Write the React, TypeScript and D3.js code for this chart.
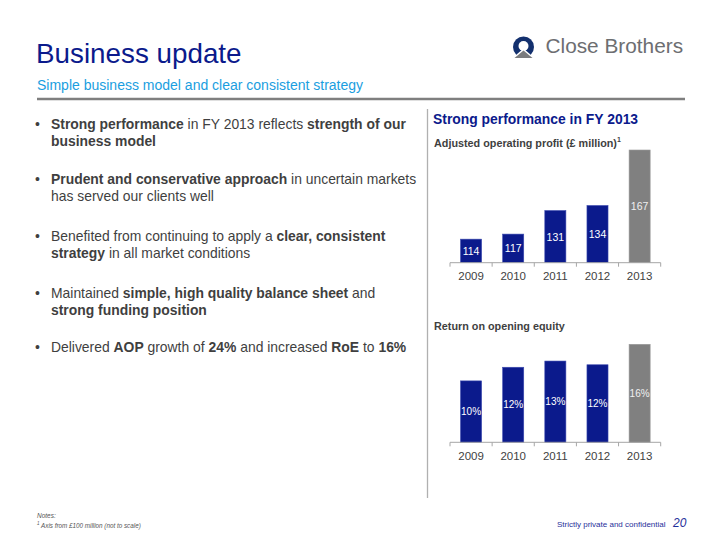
import React from "react";
import * as d3 from "d3";

const years = ["2009", "2010", "2011", "2012", "2013"];
const aopValues = [114, 117, 131, 134, 167];
const aopLabels = ["114", "117", "131", "134", "167"];
const roeValues = [9.9, 12.1, 13.1, 12.5, 15.8];
const roeLabels = ["10%", "12%", "13%", "12%", "16%"];

type Seg = { t: string; b?: boolean };
const bullets: Seg[][][] = [
  [
    [{ t: "Strong performance", b: true }, { t: " in FY 2013 reflects " }, { t: "strength of our", b: true }],
    [{ t: "business model", b: true }],
  ],
  [
    [{ t: "Prudent and conservative approach", b: true }, { t: " in uncertain markets" }],
    [{ t: "has served our clients well" }],
  ],
  [
    [{ t: "Benefited from continuing to apply a " }, { t: "clear, consistent", b: true }],
    [{ t: "strategy", b: true }, { t: " in all market conditions" }],
  ],
  [
    [{ t: "Maintained " }, { t: "simple, high quality balance sheet", b: true }, { t: " and" }],
    [{ t: "strong funding position", b: true }],
  ],
  [
    [
      { t: "Delivered " }, { t: "AOP", b: true }, { t: " growth of " }, { t: "24%", b: true },
      { t: " and increased " }, { t: "RoE", b: true }, { t: " to " }, { t: "16%", b: true },
    ],
  ],
];

const NAVY = "#0b1a8c";
const GREY_BAR = "#808080";
const TEXT = "#3f3f3f";
const FONT = "Arial, 'Liberation Sans', sans-serif";

function BarChart({
  values, labels, yDomain, baseY, topY, labelSize,
}: {
  values: number[]; labels: string[]; yDomain: [number, number]; baseY: number; topY: number; labelSize: number;
}) {
  const x = d3.scaleBand<string>().domain(years).range([450, 660.7]).paddingInner(0.5).paddingOuter(0.25);
  const y = d3.scaleLinear().domain(yDomain).range([baseY, topY]);
  const step = x.step();
  const ticks = d3.range(years.length + 1).map((i) => 450 + i * step);
  return (
    <g>
      {years.map((yr, i) => {
        const x0 = x(yr)!;
        const yt = y(values[i]);
        const last = i === years.length - 1;
        return (
          <g key={yr}>
            <rect x={x0} y={yt} width={x.bandwidth()} height={baseY - yt}
              fill={last ? GREY_BAR : NAVY} stroke={last ? "#9a9a9a" : "#3c4ab0"} strokeWidth={0.6} />
            <text x={x0 + x.bandwidth() / 2} y={(yt + baseY) / 2} textAnchor="middle" dominantBaseline="central"
              fontSize={labelSize} fill={last ? "#f0f0f0" : "#ffffff"} fontFamily={FONT}>{labels[i]}</text>
            <text x={x0 + x.bandwidth() / 2} y={baseY + 13.5} textAnchor="middle" dominantBaseline="central"
              fontSize={11.5} fill={TEXT} fontFamily={FONT}>{yr}</text>
          </g>
        );
      })}
      <line x1={450} x2={660.7} y1={baseY} y2={baseY} stroke="#a6a6a6" strokeWidth={1} />
      {ticks.map((tx, i) => (
        <line key={i} x1={tx} x2={tx} y1={baseY} y2={baseY + 4} stroke="#a6a6a6" strokeWidth={1} />
      ))}
    </g>
  );
}

export default function App() {
  const bulletTop = [123.5, 178.5, 236, 292.5, 347];
  return (
    <div style={{ position: "absolute", left: 0, top: 0 }}>
      <svg width={720} height={540} viewBox="0 0 720 540" style={{ display: "block", background: "#fff" }}>
        <rect x={0} y={0} width={720} height={540} fill="#ffffff" />
        {/* Header */}
        <text x={36} y={63} fontSize={27.8} fill={NAVY} fontFamily={FONT}>Business update</text>
        <text x={37} y={90} fontSize={14} fill="#1a9ee0" fontFamily={FONT}>Simple business model and clear consistent strategy</text>
        <line x1={37} x2={685} y1={99} y2={99} stroke="#7f7f7f" strokeWidth={2.5} />

        {/* Logo */}
        <g>
          <circle cx={523.5} cy={47} r={10.5} fill="#13306e" />
          <circle cx={523.5} cy={46} r={5} fill="#ffffff" />
          <path d="M512.5,58 L523.5,48.5 L534.5,58 Z" fill="#ffffff" />
          <path d="M514.5,58 L523.5,50.5 L532.5,58 Z" fill="#7a7b7e" />
          <text x={545.5} y={53} fontSize={20.8} fill="#6d6e71" fontFamily={FONT}>Close Brothers</text>
        </g>

        {/* Bullets */}
        {bullets.map((b, bi) => (
          <g key={bi}>
            <text x={35} y={bulletTop[bi]} dominantBaseline="central" fontSize={14} fill={TEXT} fontFamily={FONT}>•</text>
            {b.map((line, li) => (
              <text key={li} x={51} y={bulletTop[bi] + li * 17} dominantBaseline="central" fontSize={13.9} fill={TEXT} fontFamily={FONT}>
                {line.map((s, si) => (
                  <tspan key={si} fontWeight={s.b ? "bold" : "normal"}>{s.t}</tspan>
                ))}
              </text>
            ))}
          </g>
        ))}

        {/* Divider */}
        <line x1={427.5} x2={427.5} y1={109} y2={498} stroke="#b0b0b0" strokeWidth={1.3} />

        {/* Right panel */}
        <text x={433} y={118.5} dominantBaseline="central" fontSize={13.9} fontWeight="bold" fill={NAVY} fontFamily={FONT}>Strong performance in FY 2013</text>
        <text x={434} y={142.5} dominantBaseline="central" fontSize={10.8} fontWeight="bold" fill={TEXT} fontFamily={FONT}>
          Adjusted operating profit (£ million)<tspan fontSize={7} dy={-4}>1</tspan>
        </text>
        <BarChart values={aopValues} labels={aopLabels} yDomain={[100, 167]} baseY={262.7} topY={150} labelSize={10.5} />

        <text x={434} y={325.5} dominantBaseline="central" fontSize={10.8} fontWeight="bold" fill={TEXT} fontFamily={FONT}>Return on opening equity</text>
        <BarChart values={roeValues} labels={roeLabels} yDomain={[0, 15.8]} baseY={442.3} topY={344.3} labelSize={10} />

        {/* Footer */}
        <text x={37} y={515} dominantBaseline="central" fontSize={6.5} fontStyle="italic" fill="#555" fontFamily={FONT}>Notes:</text>
        <text x={37} y={524.5} dominantBaseline="central" fontSize={6.3} fontStyle="italic" fill="#555" fontFamily={FONT}>
          <tspan fontSize={4.5} dy={-2}>1</tspan><tspan dy={2}> Axis from £100 million (not to scale)</tspan>
        </text>
        <text x={557} y={524.5} dominantBaseline="central" fontSize={8} fill="#1f2f9a" fontFamily={FONT}>Strictly private and confidential</text>
        <text x={673} y={523} dominantBaseline="central" fontSize={12} fontStyle="italic" fill="#1f2f9a" fontFamily={FONT}>20</text>
      </svg>
    </div>
  );
}
